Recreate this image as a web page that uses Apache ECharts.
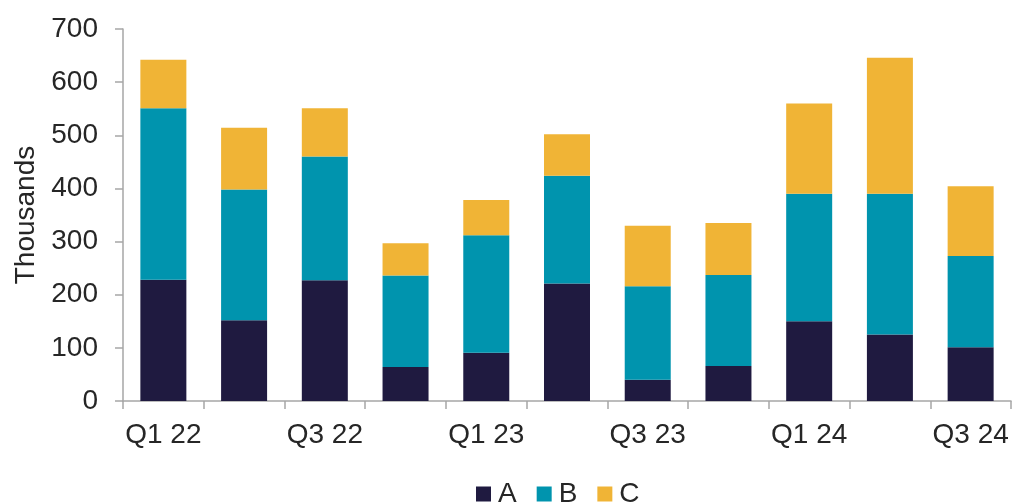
<!DOCTYPE html>
<html>
<head>
<meta charset="utf-8">
<script src="https://cdn.jsdelivr.net/npm/echarts@6/dist/echarts.min.js"></script>
<style>
  html, body { margin: 0; padding: 0; background: #ffffff; }
  #chart { width: 1013px; height: 504px; }
</style>
</head>
<body>
<div id="chart"></div>
<script>
// Quarterly totals, in thousands, split into three stacked components
const categories = ['Q1 22', 'Q2 22', 'Q3 22', 'Q4 22', 'Q1 23', 'Q2 23', 'Q3 23', 'Q4 23', 'Q1 24', 'Q2 24', 'Q3 24'];
const seriesA = [228, 152, 227, 64, 91, 221, 40, 66, 150, 125, 101];
const seriesB = [323, 246, 233, 172, 221, 203, 176, 171, 240, 265, 172];
const seriesC = [91, 116, 91, 61, 66, 78, 114, 98, 170, 256, 131];
const seriesNames = ['A', 'B', 'C'];
const yTicks = [0, 100, 200, 300, 400, 500, 600, 700];

const colors = ['#1f1a40', '#0094ae', '#f0b436'];
const textColor = '#262626';
const axisColor = '#a6a6a6';
const font = 'Liberation Sans, Arial, sans-serif';

const chart = echarts.init(document.getElementById('chart'), null, { renderer: 'canvas' });

const makeSeries = (name, data, i) => ({
  name: name,
  type: 'bar',
  stack: 'total',
  data: data,
  barWidth: 46,
  itemStyle: { color: colors[i] },
  emphasis: { disabled: true }
});

chart.setOption({
  animation: false,
  color: colors,
  textStyle: { fontFamily: font },
  grid: { left: 123, right: 2, top: 29, bottom: 103, containLabel: false },
  legend: {
    data: seriesNames,
    left: 476,
    top: 480,
    padding: 0,
    itemWidth: 15,
    itemHeight: 15,
    itemGap: 20,
    icon: 'rect',
    textStyle: { fontSize: 28, color: textColor, fontFamily: font, padding: [0, 0, 0, 2] }
  },
  xAxis: {
    type: 'category',
    data: categories,
    boundaryGap: true,
    axisLine: { lineStyle: { color: axisColor, width: 1.5 } },
    axisTick: { show: true, interval: 0, length: 8, lineStyle: { color: axisColor, width: 1.5 } },
    axisLabel: { interval: 1, margin: 20, fontSize: 28, color: textColor, fontFamily: font }
  },
  yAxis: {
    type: 'value',
    min: yTicks[0],
    max: yTicks[yTicks.length - 1],
    interval: 100,
    name: 'Thousands',
    nameLocation: 'middle',
    nameGap: 80,
    nameTextStyle: { fontSize: 28, color: textColor, fontFamily: font },
    splitLine: { show: false },
    axisLine: { show: true, lineStyle: { color: axisColor, width: 1.5 } },
    axisTick: { show: true, length: 8, lineStyle: { color: axisColor, width: 1.5 } },
    axisLabel: { margin: 25, fontSize: 28, color: textColor, fontFamily: font }
  },
  series: [
    makeSeries(seriesNames[0], seriesA, 0),
    makeSeries(seriesNames[1], seriesB, 1),
    makeSeries(seriesNames[2], seriesC, 2)
  ]
});
</script>
</body>
</html>
